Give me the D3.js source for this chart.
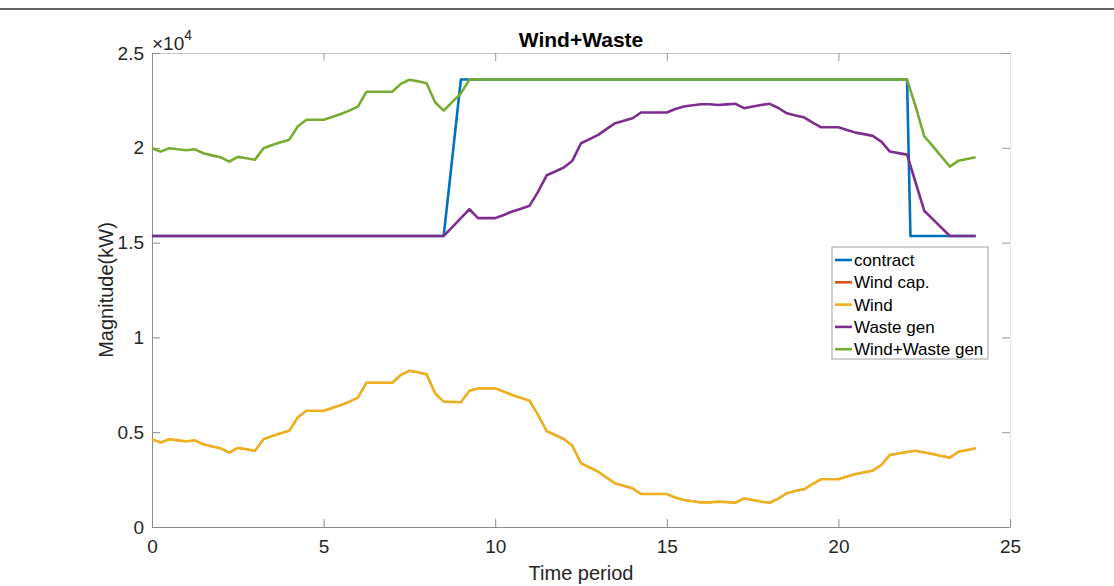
<!DOCTYPE html>
<html>
<head>
<meta charset="utf-8">
<script src="https://cdn.jsdelivr.net/npm/d3@7"></script>
<style>
  body { margin: 0; background: #fff; }
  svg { display: block; }
  text { font-family: Arial, "Liberation Sans", Helvetica, sans-serif; }
</style>
</head>
<body>
<svg id="chart" width="1114" height="586"></svg>
<script>
// Time grid: quarter-hour steps over one day
const hours = d3.range(0, 24.001, 0.25);

// Wind output (kW)
const wind = [
  4630,4450,4630,4570,4520,4570,4360,4250,4150,3920,
  4170,4100,4020,4630,4800,4940,5080,5790,6130,6130,
  6130,6280,6430,6610,6820,7610,7610,7610,7610,8020,
  8240,8160,8050,7050,6610,6600,6580,7190,7310,7310,
  7310,7140,6960,6810,6660,5910,5050,4850,4640,4280,
  3360,3140,2920,2600,2300,2170,2040,1740,1740,1740,
  1740,1550,1420,1360,1300,1300,1340,1310,1280,1510,
  1420,1340,1280,1500,1780,1900,1990,2270,2520,2520,
  2520,2660,2800,2880,2970,3270,3800,3880,3960,4020,
  3930,3850,3750,3660,3970,4060,4150
];

// Wind capacity (kW) – coincides with the wind output
const windCap = [
  4630,4450,4630,4570,4520,4570,4360,4250,4150,3920,
  4170,4100,4020,4630,4800,4940,5080,5790,6130,6130,
  6130,6280,6430,6610,6820,7610,7610,7610,7610,8020,
  8240,8160,8050,7050,6610,6600,6580,7190,7310,7310,
  7310,7140,6960,6810,6660,5910,5050,4850,4640,4280,
  3360,3140,2920,2600,2300,2170,2040,1740,1740,1740,
  1740,1550,1420,1360,1300,1300,1340,1310,1280,1510,
  1420,1340,1280,1500,1780,1900,1990,2270,2520,2520,
  2520,2660,2800,2880,2970,3270,3800,3880,3960,4020,
  3930,3850,3750,3660,3970,4060,4150
];

// Waste generation (kW)
const wasteGen = [
  15350,15350,15350,15350,15350,15350,15350,15350,15350,15350,
  15350,15350,15350,15350,15350,15350,15350,15350,15350,15350,
  15350,15350,15350,15350,15350,15350,15350,15350,15350,15350,
  15350,15350,15350,15350,15350,15820,16290,16760,16290,16290,
  16290,16460,16640,16790,16940,17690,18550,18750,18960,19320,
  20240,20460,20680,21000,21300,21430,21560,21860,21860,21860,
  21860,22050,22180,22240,22300,22300,22260,22290,22320,22090,
  22180,22260,22320,22100,21820,21700,21610,21330,21080,21080,
  21080,20940,20800,20720,20630,20330,19800,19720,19640,18170,
  16680,16240,15790,15350,15350,15350,15350
];

// Wind + waste generation (kW)
const windWasteGen = [
  19980,19800,19980,19920,19870,19920,19710,19600,19500,19270,
  19520,19450,19370,19980,20150,20290,20430,21140,21480,21480,
  21480,21630,21780,21960,22170,22960,22960,22960,22960,23370,
  23590,23510,23400,22400,21960,22420,22870,23600,23600,23600,
  23600,23600,23600,23600,23600,23600,23600,23600,23600,23600,
  23600,23600,23600,23600,23600,23600,23600,23600,23600,23600,
  23600,23600,23600,23600,23600,23600,23600,23600,23600,23600,
  23600,23600,23600,23600,23600,23600,23600,23600,23600,23600,
  23600,23600,23600,23600,23600,23600,23600,23600,23600,22190,
  20610,20090,19540,19010,19320,19410,19500
];

// Contracted power (kW)
const contractHours = [0, 8.5, 9, 22, 22.1, 24];
const contract = [15350, 15350, 23600, 23600, 15350, 15350];

const xTicks = [0, 5, 10, 15, 20, 25];
const yTicks = [0, 5000, 10000, 15000, 20000, 25000];
const yTickLabels = ["0", "0.5", "1", "1.5", "2", "2.5"];

const seriesNames = ["contract", "Wind cap.", "Wind", "Waste gen", "Wind+Waste gen"];
const seriesColors = ["#0072BD", "#D95319", "#EDB120", "#7E2F8E", "#77AC30"];

(function draw() {
  const svg = d3.select("#chart");
  svg.append("rect").attr("width", 1114).attr("height", 586).attr("fill", "#fff");

  // page rule at the top
  svg.append("line").attr("x1", 0).attr("x2", 1114).attr("y1", 9).attr("y2", 9)
    .attr("stroke", "#333").attr("stroke-width", 1.5);

  const mLeft = 152, mRight = 1010, mTop = 53, mBottom = 527;
  const x = d3.scaleLinear().domain([0, 25]).range([mLeft, mRight]);
  const y = d3.scaleLinear().domain([0, 25000]).range([mBottom, mTop]);

  const axisColor = "#8a8a8a";
  const labelColor = "#262626";

  // frame axes (ticks pointing inward)
  const gTop = svg.append("g").attr("transform", `translate(0,${mTop})`)
    .call(d3.axisTop(x).tickValues(xTicks).tickSizeInner(-8).tickSizeOuter(0).tickFormat(""));
  const gRight = svg.append("g").attr("transform", `translate(${mRight},0)`)
    .call(d3.axisRight(y).tickValues(yTicks).tickSizeInner(-8).tickSizeOuter(0).tickFormat(""));
  gTop.select(".domain").attr("stroke", "#c8c8c8");
  gRight.select(".domain").attr("stroke", "#e6e6e6");
  [gTop, gRight].forEach(g => g.selectAll(".tick line").attr("stroke", "#9a9a9a"));

  const gx = svg.append("g").attr("transform", `translate(0,${mBottom})`)
    .call(d3.axisBottom(x).tickValues(xTicks).tickSizeInner(-8).tickSizeOuter(0).tickPadding(13)
      .tickFormat(d3.format("d")));
  const gy = svg.append("g").attr("transform", `translate(${mLeft},0)`)
    .call(d3.axisLeft(y).tickValues(yTicks).tickSizeInner(-8).tickSizeOuter(0).tickPadding(8)
      .tickFormat((d, i) => yTickLabels[i]));
  [gx, gy].forEach(g => {
    g.select(".domain").attr("stroke", axisColor);
    g.selectAll(".tick line").attr("stroke", axisColor);
    g.selectAll(".tick text").attr("fill", labelColor).style("font-size", "19px")
      .style("font-family", "Arial, 'Liberation Sans', sans-serif");
  });

  // exponent label
  const ex = svg.append("text").attr("x", mLeft).attr("y", 50).attr("fill", labelColor)
    .style("font-size", "19px");
  ex.append("tspan").text("\u00d710");
  ex.append("tspan").attr("dy", -10).style("font-size", "14px").text("4");

  // title and axis labels
  svg.append("text").attr("x", (mLeft + mRight) / 2).attr("y", 47).attr("text-anchor", "middle")
    .attr("fill", "#000").style("font-size", "21px").style("font-weight", "bold").text("Wind+Waste");
  svg.append("text").attr("x", (mLeft + mRight) / 2).attr("y", 580).attr("text-anchor", "middle")
    .attr("fill", labelColor).style("font-size", "20px").text("Time period");
  svg.append("text").attr("transform", `translate(113,${(mTop + mBottom) / 2}) rotate(-90)`)
    .attr("text-anchor", "middle").attr("fill", labelColor).style("font-size", "20px").text("Magnitude(kW)");

  // series (the capacity line lies beneath the wind output)
  const lineGen = d3.line().x(d => x(d[0])).y(d => y(d[1]));
  const series = [
    { hrs: contractHours, vals: contract, w: 2.6 },
    { hrs: hours, vals: windCap, w: 1.8 },
    { hrs: hours, vals: wind, w: 2.6 },
    { hrs: hours, vals: wasteGen, w: 2.6 },
    { hrs: hours, vals: windWasteGen, w: 2.6 }
  ];
  series.forEach((s, i) => {
    svg.append("path")
      .datum(s.hrs.map((h, j) => [h, s.vals[j]]))
      .attr("fill", "none")
      .attr("stroke", seriesColors[i])
      .attr("stroke-width", s.w)
      .attr("stroke-linejoin", "round")
      .attr("d", lineGen);
  });

  // legend
  const lg = svg.append("g").attr("transform", "translate(832,247)");
  lg.append("rect").attr("width", 156).attr("height", 112).attr("fill", "#fff")
    .attr("stroke", "#a0a0a0").attr("stroke-width", 1);
  seriesNames.forEach((name, i) => {
    const cy = 13 + i * 22.3;
    lg.append("line").attr("x1", 3).attr("x2", 20).attr("y1", cy).attr("y2", cy)
      .attr("stroke", seriesColors[i]).attr("stroke-width", 2.6);
    lg.append("text").attr("x", 22).attr("y", cy).attr("dy", "0.36em")
      .attr("fill", "#000").style("font-size", "17px").text(name);
  });
})();
</script>
</body>
</html>
